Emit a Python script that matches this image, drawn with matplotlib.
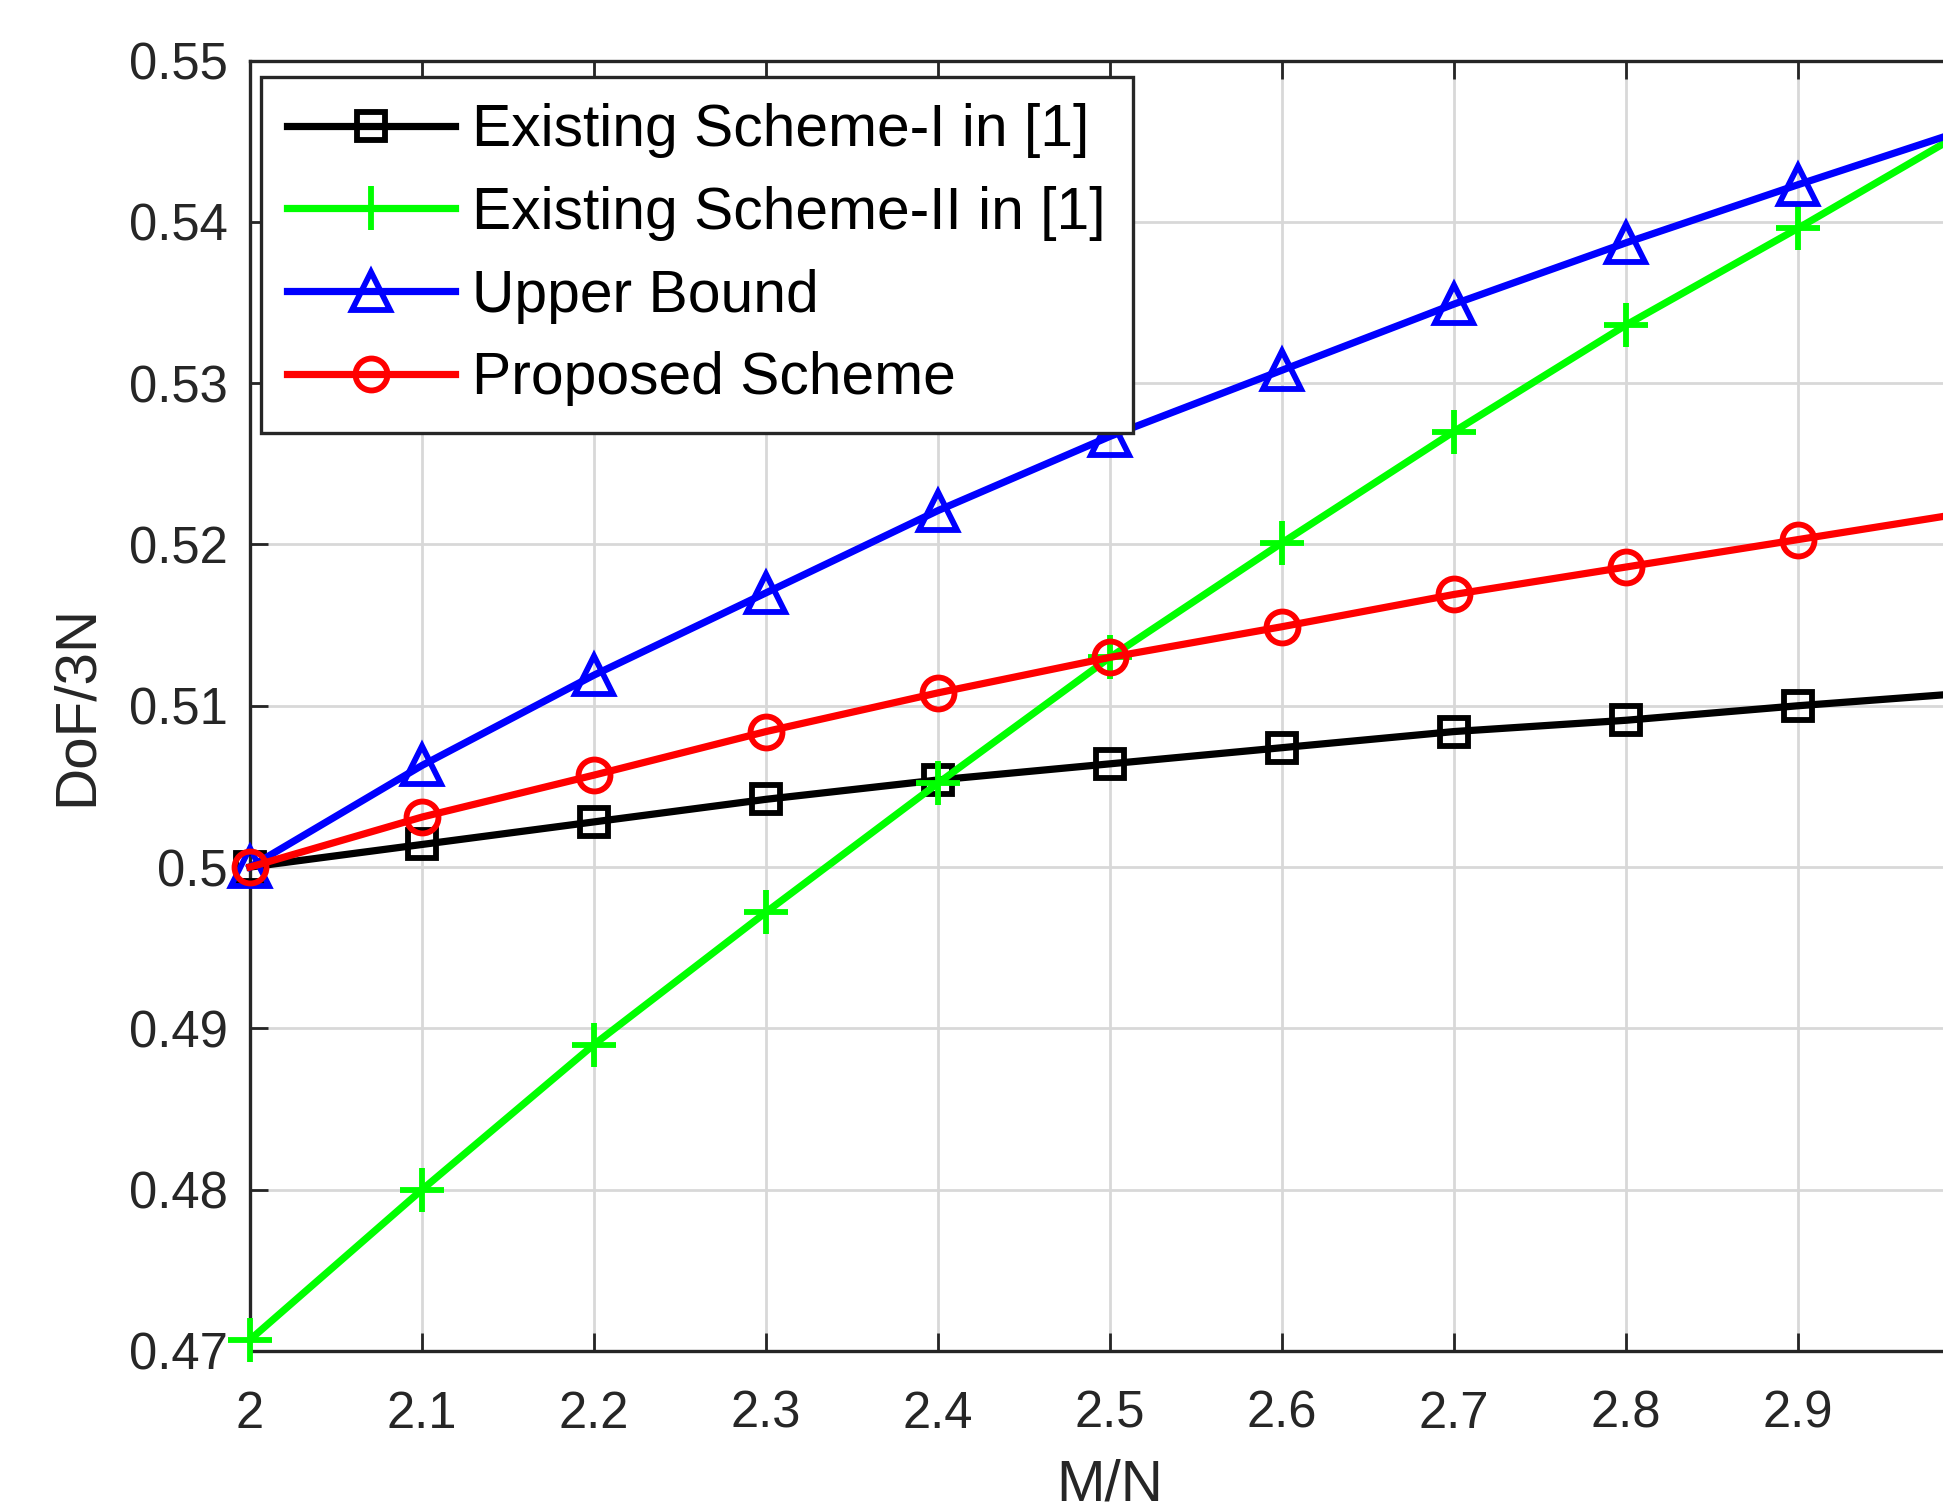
import matplotlib
matplotlib.use("Agg")
import matplotlib.pyplot as plt
from matplotlib.ticker import FormatStrFormatter

plt.rcParams['font.family'] = ['Liberation Sans', 'DejaVu Sans']

# M/N values
mn = [2.0, 2.1, 2.2, 2.3, 2.4, 2.5, 2.6, 2.7, 2.8, 2.9, 3.0]

# DoF/3N
scheme1 = [0.5000, 0.5014, 0.5028, 0.5042, 0.5054, 0.5064, 0.5074, 0.5084, 0.5091, 0.5100, 0.5108]
scheme2 = [0.4707, 0.4800, 0.4890, 0.4972, 0.5052, 0.5130, 0.5201, 0.5270, 0.5336, 0.5396, 0.5458]
upper = [0.5000, 0.5063, 0.5119, 0.5170, 0.5221, 0.5267, 0.5308, 0.5349, 0.5387, 0.5423, 0.5458]
proposed = [0.5000, 0.5031, 0.5057, 0.5084, 0.5108, 0.5130, 0.5149, 0.5169, 0.5186, 0.5203, 0.5220]

labels = ['Existing Scheme-I in [1]', 'Existing Scheme-II in [1]',
          'Upper Bound', 'Proposed Scheme']

# x = 3 sits on the (cropped) right edge, so its tick is not shown
xticks = [2.0, 2.1, 2.2, 2.3, 2.4, 2.5, 2.6, 2.7, 2.8, 2.9]
yticks = [0.47, 0.48, 0.49, 0.50, 0.51, 0.52, 0.53, 0.54, 0.55]

fig = plt.figure(figsize=(19.43, 15.09), dpi=100)
ax = fig.add_axes([250 / 1943, 1 - 1351 / 1509, 1720 / 1943, 1290.5 / 1509])

lw = 5.2
mew = 4.2
ax.plot(mn, scheme1, '-s', color='#000000', lw=lw, ms=20, mew=mew,
        mfc='none', label=labels[0], clip_on=False, zorder=3)
ax.plot(mn, scheme2, '-+', color='#00ff00', lw=lw, ms=31, mew=mew,
        label=labels[1], clip_on=False, zorder=3)
ax.plot(mn, upper, '-^', color='#0000ff', lw=lw, ms=28, mew=mew,
        mfc='none', label=labels[2], clip_on=False, zorder=4)
ax.plot(mn, proposed, '-o', color='#ff0000', lw=lw, ms=23, mew=mew,
        mfc='none', label=labels[3], clip_on=False, zorder=5)

ax.set_xlim(2, 3)
ax.set_ylim(0.47, 0.55)
ax.set_xticks(xticks)
ax.set_yticks(yticks)
ax.xaxis.set_major_formatter(FormatStrFormatter('%g'))
ax.yaxis.set_major_formatter(FormatStrFormatter('%g'))
ax.grid(True, color='#d8d8d8', lw=2)
ax.set_axisbelow(True)

for s in ax.spines.values():
    s.set_color('#262626')
    s.set_linewidth(2.4)
ax.tick_params(direction='in', length=13, width=2, colors='#262626',
               labelsize=36.5, top=True, right=True)
ax.tick_params(axis='x', pad=28)
ax.tick_params(axis='y', pad=16)

ax.set_xlabel('M/N', fontsize=42, color='#262626', labelpad=14)
ax.set_ylabel('DoF/3N', fontsize=42, color='#262626', labelpad=18)

leg = ax.legend(loc='upper left', bbox_to_anchor=(261 / 1943, 1 - 77 / 1509),
                bbox_transform=fig.transFigure, borderaxespad=0,
                fontsize=42.3, frameon=True, fancybox=False, handlelength=2.85,
                handletextpad=0.3, labelspacing=0.47, borderpad=0.45)
leg.get_frame().set_edgecolor('#262626')
leg.get_frame().set_linewidth(2.4)
leg.get_frame().set_alpha(1)

fig.savefig('out.png', dpi=100)
